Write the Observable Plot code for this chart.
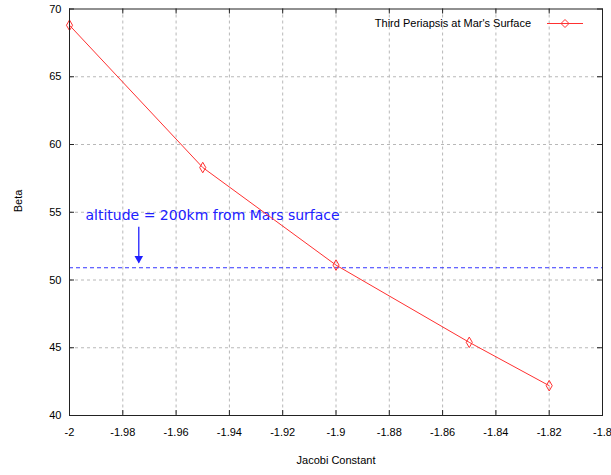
<!DOCTYPE html>
<html>
<head>
<meta charset="utf-8">
<script src="https://cdn.jsdelivr.net/npm/d3@7"></script>
<script src="https://cdn.jsdelivr.net/npm/@observablehq/plot@0.6"></script>
<style>
  html, body { margin: 0; padding: 0; background: #fff; }
  #wrap { position: relative; width: 611px; height: 475px; font-family: "Liberation Sans", Arial, sans-serif; }
  #legend { position: absolute; left: 300px; top: 16px; width: 290px; height: 16px; }
  #legend span { position: absolute; right: 59px; top: 0; font-size: 11px; line-height: 14px; color: #000; white-space: nowrap; }
  #legend svg { position: absolute; left: 246px; top: 0; }
</style>
</head>
<body>
<div id="wrap"><div id="legend"></div></div>
<script>
// ---- data ----
const jacobi = [-2, -1.95, -1.9, -1.85, -1.82];
const beta = [68.8, 58.3, 51.1, 45.4, 42.2];
const seriesName = "Third Periapsis at Mar's Surface";

const xTicks = [-2, -1.98, -1.96, -1.94, -1.92, -1.9, -1.88, -1.86, -1.84, -1.82, -1.8];
const xTickLabels = ["-2", "-1.98", "-1.96", "-1.94", "-1.92", "-1.9", "-1.88", "-1.86", "-1.84", "-1.82", "-1.8"];
const yTicks = [40, 45, 50, 55, 60, 65, 70];
const yTickLabels = ["40", "45", "50", "55", "60", "65", "70"];
const xLabel = "Jacobi Constant";
const yLabel = "Beta";

const altitudeBeta = [50.9];
const noteText = ["altitude = 200km from Mars surface"];
const noteX = [-1.994];
const noteY = [54.75];
const arrowX = [-1.974];
const arrowFrom = [53.9];
const arrowTo = [51.25];

// ---- build ----
const points = jacobi.map((x, i) => ({x, y: beta[i]}));
const xLab = new Map(xTicks.map((t, i) => [t, xTickLabels[i]]));
const yLab = new Map(yTicks.map((t, i) => [t, yTickLabels[i]]));
const note = noteText.map((t, i) => ({t, x: noteX[i], y: noteY[i]}));
const arrows = arrowX.map((x, i) => ({x, y1: arrowFrom[i], y2: arrowTo[i]}));

const red = "#ff3030";
const blue = "#2020ff";
const tickStroke = "#222";

const chart = Plot.plot({
  width: 611,
  height: 475,
  marginLeft: 69,
  marginRight: 9,
  marginTop: 8.5,
  marginBottom: 60,
  style: {fontFamily: "Liberation Sans, Arial, sans-serif", fontSize: "11px", background: "#fff", color: "#000"},
  x: {domain: [-2, -1.8], axis: null},
  y: {domain: [40, 70], axis: null},
  marks: [
    Plot.gridX(xTicks.slice(1, -1), {stroke: "#b8b8b8", strokeOpacity: 1, strokeDasharray: "3,3"}),
    Plot.gridY(yTicks.slice(1, -1), {stroke: "#b8b8b8", strokeOpacity: 1, strokeDasharray: "3,3"}),
    // inward tick marks on all four sides
    Plot.ruleX(xTicks, {x: d => d, y1: 40, y2: 40, insetBottom: 5, stroke: tickStroke}),
    Plot.ruleX(xTicks, {x: d => d, y1: 70, y2: 70, insetTop: 5, stroke: tickStroke}),
    Plot.ruleY(yTicks, {y: d => d, x1: -2, x2: -2, insetLeft: 5, stroke: tickStroke}),
    Plot.ruleY(yTicks, {y: d => d, x1: -1.8, x2: -1.8, insetRight: 5, stroke: tickStroke}),
    // tick labels
    Plot.axisX(xTicks, {tickSize: 0, tickPadding: 13, tickFormat: d => xLab.get(d), label: null, fill: "#000", fontSize: 11}),
    Plot.axisY(yTicks, {tickSize: 0, tickPadding: 8, tickFormat: d => yLab.get(d), label: null, fill: "#000", fontSize: 11}),
    Plot.text([xLabel], {frameAnchor: "bottom", dy: 48, text: d => d, fontSize: 11, fill: "#000"}),
    Plot.text([yLabel], {frameAnchor: "left", dx: -51, rotate: -90, text: d => d, fontSize: 11, fill: "#000"}),
    // altitude reference line
    Plot.ruleY(altitudeBeta, {y: d => d, stroke: "#3535ff", strokeDasharray: "4,3", strokeWidth: 1.1}),
    // annotation
    Plot.text(note, {x: "x", y: "y", text: "t", textAnchor: "start", fill: blue, fontSize: 14, fontFamily: "DejaVu Sans, Verdana, sans-serif"}),
    Plot.ruleX(arrows, {x: "x", y1: "y1", y2: "y2", stroke: blue, strokeWidth: 1.3}),
    Plot.dot(arrows, {x: "x", y: "y2", symbol: "triangle", rotate: 180, r: 3.2, dy: -4.5, fill: blue, stroke: "none"}),
    // data series
    Plot.line(points, {x: "x", y: "y", stroke: red, strokeWidth: 1}),
    Plot.dot(points, {x: "x", y: "y", symbol: "diamond", r: 3.2, stroke: red, fill: "none", strokeWidth: 1}),
    Plot.frame({stroke: "#222", strokeWidth: 1})
  ]
});
document.getElementById("wrap").prepend(chart);

// legend (series key, top right inside the frame)
const legend = document.getElementById("legend");
const lbl = document.createElement("span");
lbl.textContent = seriesName;
legend.appendChild(lbl);
legend.insertAdjacentHTML("beforeend",
  `<svg width="40" height="16"><line x1="1" y1="7.5" x2="37" y2="7.5" stroke="${red}" stroke-width="1"/>` +
  `<path d="M19,3.5 L23,7.5 L19,11.5 L15,7.5 Z" fill="none" stroke="${red}" stroke-width="1"/></svg>`);
</script>
</body>
</html>
